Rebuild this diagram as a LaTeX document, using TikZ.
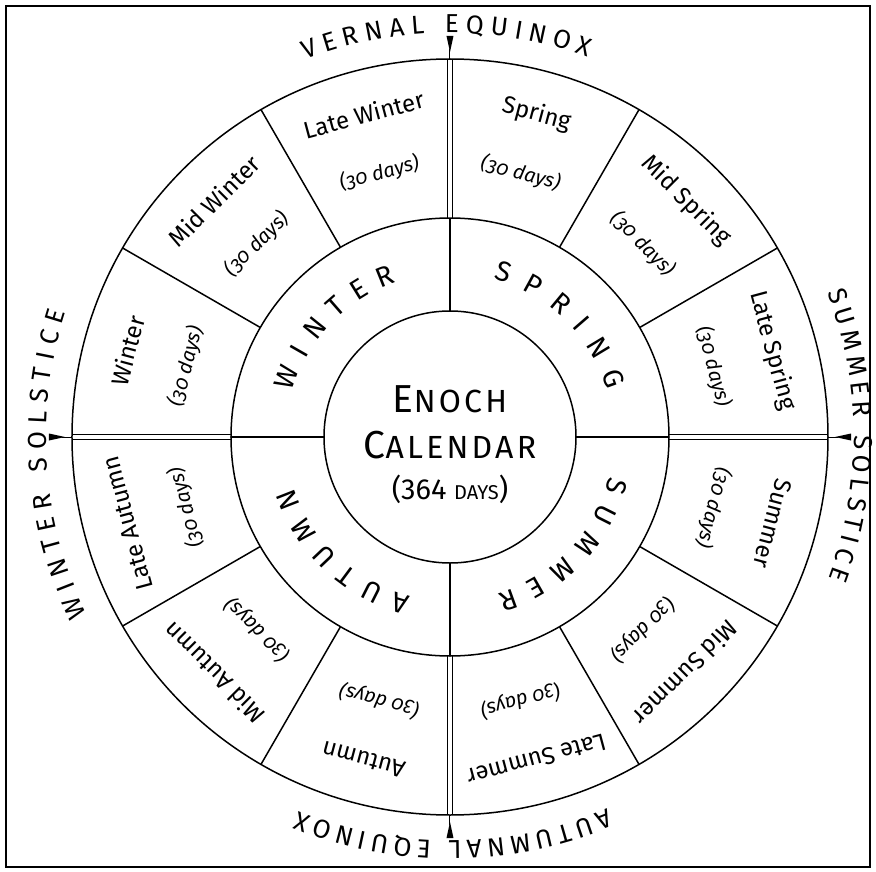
\documentclass[tikz,border=0pt]{standalone}
\usepackage{fontspec}
\setmainfont{Fira Sans}
\newfontfamily\oldstylefont{Fira Sans}[Numbers=OldStyle]
\usetikzlibrary{decorations.text}

\newcommand{\ringfont}{\fontsize{28}{28}\selectfont}
\newcommand{\rimfont}{\fontsize{26}{26}\selectfont}

\begin{document}
\begin{tikzpicture}[x=1pt, y=1pt, line width=1.5pt,
    monthname/.style={font=\fontsize{24}{24}\selectfont},
    monthdays/.style={font=\oldstylefont\itshape\fontsize{20}{20}\selectfont},
    ringtext/.style={font=\ringfont, decorate, decoration={text along path, text={|\ringfont|#1}, text align={fit to path}}},
    rimtext/.style={font=\rimfont, decorate, decoration={text along path, text={|\rimfont|#1}, text align={fit to path}}},
    centretext/.style={anchor=base, font=\addfontfeature{LetterSpace=10}}]
    \useasboundingbox (-450,-434) rectangle (426,437);

    % Frame
    \draw[line width=1.8pt] (-444,-430) rectangle (420,431);

    % Dividers
    \foreach \a in {30,60,120,150,210,240,300,330}
        \draw (\a:219) -- (\a:378);
    \foreach \a in {0,90,180,270} {
        \draw (\a:126) -- (\a:219);
        \draw[double, double distance=3.5pt] (\a:219) -- (\a:378);
    }

    % Rings
    \draw (0,0) circle (126);
    \draw (0,0) circle (219);
    \draw (0,0) circle (378);

    % Equinox and solstice markers
    \foreach \a in {0,90,180,270} {
        \draw[line width=1pt] (\a:378) -- (\a:388);
        \fill[rotate=\a] (385,0) -- (401,3.5) -- (401,-3.5) -- cycle;
    }

    % Rim labels
    \path[rimtext=VERNAL EQUINOX] (111:404) arc[start angle=111, end angle=70, radius=404];
    \path[rimtext=SUMMER SOLSTICE] (21:404) arc[start angle=21, end angle=-20.5, radius=404];
    \path[rimtext=AUTUMNAL EQUINOX] (-67:404) arc[start angle=-67, end angle=-112, radius=404];
    \path[rimtext=WINTER SOLSTICE] (206:404) arc[start angle=206, end angle=162, radius=404];

    % Seasons
    \path[ringtext=SPRING] (74.5:164) arc[start angle=74.5, end angle=16.5, radius=164];
    \path[ringtext=SUMMER] (-14:164) arc[start angle=-14, end angle=-73, radius=164];
    \path[ringtext=AUTUMN] (-104:164) arc[start angle=-104, end angle=-162, radius=164];
    \path[ringtext=WINTER] (164:164) arc[start angle=164, end angle=109, radius=164];

    % Months
    \foreach \m [count=\i] in {Spring, Mid Spring, Late Spring, Summer, Mid Summer, Late Summer,
        Autumn, Mid Autumn, Late Autumn, Winter, Mid Winter, Late Winter} {
        \pgfmathsetmacro{\a}{105-30*\i}
        \node[monthname, rotate=\a-90] (name\i) at (\a:334) {\m};
        \node[monthdays, rotate=\a-90] (days\i) at (\a:273) {(30 days)};
    }

    % Centre
    \node[centretext] (enoch) at (0,25) {{\fontsize{39}{40}\selectfont E}{\fontsize{32}{40}\selectfont NOCH}};
    \node[centretext] (calendar) at (0,-21) {{\fontsize{39}{40}\selectfont C}{\fontsize{32}{40}\selectfont ALENDAR}};
    \node[anchor=base] (total) at (0,-62) {{\fontsize{29}{30}\selectfont (364 }{\fontsize{20}{30}\selectfont DAYS}{\fontsize{29}{30}\selectfont )}};

\end{tikzpicture}
\end{document}
